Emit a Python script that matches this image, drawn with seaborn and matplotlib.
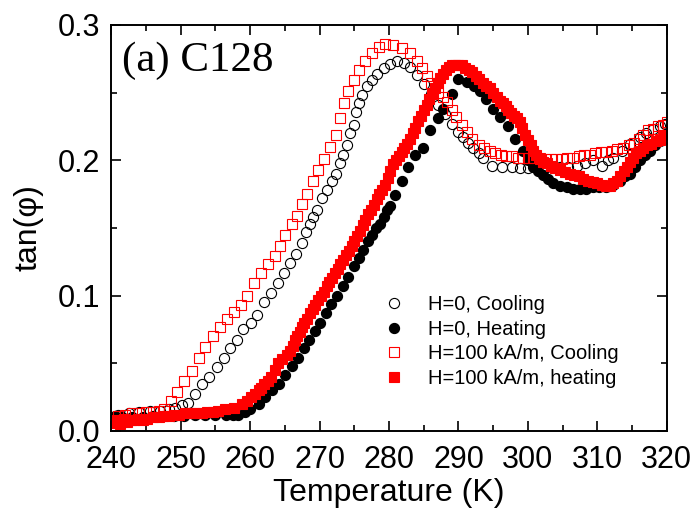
import numpy as np
import pandas as pd
import matplotlib
matplotlib.use("Agg")
import matplotlib.pyplot as plt
from matplotlib.ticker import MultipleLocator, FormatStrFormatter
import seaborn as sns

# ---------------- data ----------------
h0_cool_T = [241.0, 242.5, 244.0, 245.5, 247.0, 248.3, 249.2, 250.2, 251.1, 252.1, 253.0, 254.1,
             255.2, 256.2, 257.1, 258.1, 259.0, 260.1, 261.0, 262.0, 263.0, 264.0, 264.9, 265.8,
             266.6, 267.4, 268.0, 268.6, 269.1, 269.6, 270.3, 271.0, 271.8, 272.4, 272.9, 273.4,
             273.9, 274.4, 274.9, 275.2, 275.6, 276.1, 276.8, 277.5, 278.2, 279.2, 280.1, 281.1,
             282.1, 283.0, 284.0, 285.0, 286.0, 287.0, 288.0, 289.0, 289.9, 290.7, 291.4, 292.1,
             292.9, 293.6, 294.8, 296.2, 297.7, 298.8, 300.0, 301.2, 302.5, 303.5, 304.6, 305.8,
             307.0, 308.2, 309.4, 310.6, 311.5, 312.3, 313.5, 314.7, 316.1, 317.0, 318.0, 319.0,
             319.7]
h0_cool_v = [0.012, 0.013, 0.014, 0.015, 0.015, 0.016, 0.017, 0.019, 0.021, 0.027, 0.035, 0.040,
             0.047, 0.054, 0.061, 0.067, 0.075, 0.080, 0.086, 0.095, 0.102, 0.109, 0.117, 0.124,
             0.131, 0.139, 0.147, 0.153, 0.158, 0.163, 0.172, 0.178, 0.185, 0.190, 0.198, 0.204,
             0.211, 0.220, 0.226, 0.236, 0.242, 0.248, 0.255, 0.259, 0.264, 0.268, 0.271, 0.273,
             0.272, 0.269, 0.263, 0.256, 0.249, 0.241, 0.234, 0.227, 0.221, 0.217, 0.213, 0.209,
             0.205, 0.202, 0.196, 0.195, 0.195, 0.194, 0.194, 0.195, 0.194, 0.195, 0.195, 0.195,
             0.196, 0.198, 0.200, 0.196, 0.200, 0.202, 0.207, 0.212, 0.217, 0.220, 0.223, 0.225,
             0.227]

h0_heat_T = [240.5, 241.5, 243.0, 244.5, 246.0, 247.5, 249.0, 250.5, 252.0, 253.5, 255.0, 256.5,
             257.5, 258.3, 259.2, 260.0, 261.2, 262.2, 263.1, 264.1, 265.0, 266.0, 266.9, 267.7,
             268.5, 269.3, 270.1, 270.9, 271.7, 272.5, 273.3, 274.1, 274.9, 275.6, 276.2, 276.9,
             277.5, 278.1, 278.7, 279.2, 279.7, 280.2, 280.9, 281.8, 282.7, 283.7, 284.9, 285.9,
             287.1, 287.8, 289.0, 290.0, 291.2, 292.2, 293.1, 294.0, 295.0, 296.0, 297.2, 298.1,
             299.3, 300.0, 300.8, 301.5, 302.2, 302.9, 303.6, 304.6, 305.6, 306.5, 307.5, 308.4,
             309.4, 310.3, 311.3, 312.3, 313.2, 314.0, 314.7, 315.4, 316.1, 316.9, 317.6, 318.3,
             319.0, 319.7]
h0_heat_v = [0.011, 0.010, 0.010, 0.010, 0.011, 0.011, 0.011, 0.011, 0.012, 0.012, 0.012, 0.012,
             0.012, 0.012, 0.014, 0.016, 0.020, 0.025, 0.030, 0.035, 0.041, 0.048, 0.054, 0.061,
             0.067, 0.074, 0.080, 0.087, 0.094, 0.100, 0.107, 0.114, 0.122, 0.128, 0.134, 0.140,
             0.145, 0.150, 0.153, 0.158, 0.163, 0.166, 0.174, 0.185, 0.195, 0.204, 0.209, 0.222,
             0.231, 0.238, 0.249, 0.260, 0.258, 0.255, 0.251, 0.245, 0.238, 0.232, 0.225, 0.216,
             0.207, 0.200, 0.195, 0.192, 0.189, 0.186, 0.183, 0.181, 0.180, 0.179, 0.179, 0.179,
             0.180, 0.180, 0.180, 0.182, 0.185, 0.188, 0.190, 0.195, 0.200, 0.204, 0.207, 0.211,
             0.214, 0.216]

h100_cool_T = [241.0, 242.0, 243.0, 244.0, 245.0, 246.0, 246.8, 247.6, 248.6, 249.5, 250.5, 251.6,
               252.6, 253.5, 254.6, 255.7, 256.6, 257.6, 258.7, 259.6, 260.6, 261.5, 262.6, 263.5,
               264.3, 265.0, 266.0, 266.7, 267.4, 268.2, 269.1, 269.8, 270.6, 271.5, 272.3, 272.9,
               273.5, 274.1, 274.9, 275.6, 276.5, 277.5, 278.5, 279.4, 280.6, 281.8, 283.0, 284.0,
               284.7, 285.4, 286.1, 287.0, 287.7, 288.3, 289.0, 289.7, 290.5, 291.2, 291.9, 292.9,
               293.7, 294.5, 295.3, 296.1, 296.9, 297.7, 298.5, 299.3, 300.1, 300.9, 301.7, 302.5,
               303.3, 304.1, 304.9, 305.7, 306.5, 307.3, 308.1, 308.9, 309.7, 310.5, 311.3, 312.1,
               312.9, 313.7, 314.5, 315.3, 316.0, 316.6, 317.3, 318.0, 318.7, 319.4, 320.0]
h100_cool_v = [0.011, 0.012, 0.013, 0.013, 0.014, 0.014, 0.015, 0.016, 0.022, 0.029, 0.037, 0.044,
               0.054, 0.062, 0.070, 0.077, 0.083, 0.088, 0.093, 0.100, 0.109, 0.117, 0.123, 0.129,
               0.137, 0.145, 0.153, 0.159, 0.168, 0.175, 0.185, 0.193, 0.201, 0.210, 0.219, 0.231,
               0.242, 0.251, 0.259, 0.267, 0.273, 0.279, 0.284, 0.286, 0.285, 0.283, 0.279, 0.273,
               0.268, 0.262, 0.257, 0.250, 0.247, 0.243, 0.237, 0.232, 0.226, 0.221, 0.216, 0.211,
               0.209, 0.207, 0.205, 0.204, 0.203, 0.203, 0.202, 0.202, 0.202, 0.202, 0.202, 0.201,
               0.201, 0.201, 0.201, 0.202, 0.202, 0.203, 0.204, 0.204, 0.205, 0.206, 0.206, 0.207,
               0.208, 0.209, 0.211, 0.213, 0.216, 0.219, 0.222, 0.223, 0.225, 0.226, 0.228]

h100_heat_T = [240.3, 240.8, 241.3, 241.8, 242.3, 242.8, 243.3, 243.8, 244.5, 245.2, 246.0, 246.8,
               247.5, 248.3, 249.0, 249.8, 250.6, 251.4, 252.2, 253.0, 253.8, 254.6, 255.4, 256.4,
               257.6, 258.8, 259.6, 260.1, 260.7, 261.2, 261.6, 262.0, 262.5, 263.0, 263.5, 264.0,
               264.6, 265.3, 265.7, 266.1, 266.5, 266.8, 267.1, 267.4, 267.8, 268.2, 268.6, 269.0,
               269.4, 269.8, 270.2, 270.6, 271.0, 271.4, 271.8, 272.2, 272.6, 273.0, 273.4, 273.8,
               274.2, 274.6, 275.0, 275.4, 275.8, 276.2, 276.6, 277.0, 277.4, 277.8, 278.2, 278.6,
               279.0, 279.4, 279.8, 280.2, 280.6, 281.0, 281.4, 281.8, 282.2, 282.6, 283.0, 283.4,
               283.8, 284.2, 284.6, 285.0, 285.4, 285.8, 286.2, 286.6, 287.0, 287.4, 287.8, 288.2,
               288.6, 289.0, 289.5, 290.0, 290.5, 291.0, 291.5, 292.0, 292.5, 293.0, 293.5, 294.0,
               294.5, 295.0, 295.5, 296.0, 296.4, 296.8, 297.2, 297.6, 298.0, 298.4, 298.8, 299.2,
               299.6, 300.0, 300.4, 300.8, 301.2, 301.7, 302.2, 302.7, 303.3, 303.9, 304.6, 305.3,
               306.0, 306.7, 307.4, 308.0, 308.7, 309.4, 310.0, 310.7, 311.3, 311.8, 312.3, 312.8,
               313.3, 313.8, 314.2, 314.7, 315.2, 315.6, 316.1, 316.6, 317.2, 317.8, 318.4, 319.0,
               319.6, 320.0]
h100_heat_v = [0.006, 0.008, 0.005, 0.009, 0.007, 0.008, 0.008, 0.009, 0.008, 0.009, 0.010, 0.010,
               0.011, 0.011, 0.012, 0.012, 0.013, 0.013, 0.013, 0.013, 0.014, 0.014, 0.015, 0.016,
               0.017, 0.020, 0.022, 0.025, 0.027, 0.030, 0.032, 0.035, 0.037, 0.040, 0.045, 0.050,
               0.053, 0.056, 0.059, 0.063, 0.067, 0.070, 0.073, 0.077, 0.080, 0.083, 0.087, 0.090,
               0.093, 0.097, 0.100, 0.103, 0.107, 0.110, 0.113, 0.117, 0.120, 0.123, 0.126, 0.130,
               0.133, 0.137, 0.140, 0.144, 0.148, 0.152, 0.156, 0.160, 0.163, 0.167, 0.171, 0.175,
               0.178, 0.182, 0.187, 0.192, 0.197, 0.200, 0.203, 0.206, 0.209, 0.212, 0.216, 0.220,
               0.224, 0.229, 0.233, 0.237, 0.241, 0.245, 0.249, 0.253, 0.257, 0.261, 0.264, 0.267,
               0.269, 0.270, 0.270, 0.270, 0.270, 0.268, 0.267, 0.265, 0.262, 0.260, 0.257, 0.255,
               0.253, 0.250, 0.247, 0.244, 0.242, 0.240, 0.237, 0.235, 0.233, 0.231, 0.228, 0.224,
               0.219, 0.215, 0.211, 0.207, 0.204, 0.201, 0.199, 0.198, 0.196, 0.194, 0.193, 0.191,
               0.190, 0.189, 0.188, 0.186, 0.185, 0.184, 0.183, 0.182, 0.181, 0.181, 0.183, 0.185,
               0.188, 0.192, 0.195, 0.199, 0.202, 0.205, 0.207, 0.209, 0.211, 0.212, 0.214, 0.215,
               0.217, 0.218]

labels = ["H=0, Cooling", "H=0, Heating", "H=100 kA/m, Cooling", "H=100 kA/m, heating"]
panel_label = "(a) C128"
x_ticks = [240, 250, 260, 270, 280, 290, 300, 310, 320]
y_ticks = [0.0, 0.1, 0.2, 0.3]

# ---------------- figure ----------------
sns.set_style("ticks")
plt.rcParams["font.family"] = ["Liberation Sans", "DejaVu Sans"]
plt.rcParams["text.color"] = "black"
plt.rcParams["axes.labelcolor"] = "black"
plt.rcParams["xtick.color"] = "black"
plt.rcParams["ytick.color"] = "black"
plt.rcParams["axes.edgecolor"] = "black"

fig = plt.figure(figsize=(6.96, 5.18), dpi=100)
ax = fig.add_axes([0.160, 0.168, 0.798, 0.784])

RED = "#ff0000"
series = [
    (h0_cool_T, h0_cool_v, labels[0], "o", 7.3, "none", "black", 0.8),
    (h0_heat_T, h0_heat_v, labels[1], "o", 7.3, "black", "black", 0.8),
    (h100_cool_T, h100_cool_v, labels[2], "s", 6.5, "none", RED, 0.8),
    (h100_heat_T, h100_heat_v, labels[3], "s", 6.5, RED, RED, 0.8),
]
for T, v, lab, mk, ms, fc, ec, lw in series:
    df = pd.DataFrame({"T": T, "v": v})
    sns.lineplot(data=df, x="T", y="v", ax=ax, estimator=None, sort=False,
                 linestyle="none", marker=mk, markersize=ms, markerfacecolor=fc,
                 markeredgecolor=ec, markeredgewidth=lw, color=ec, label=lab)

ax.set_xlim(240, 320)
ax.set_ylim(0.0, 0.3)
ax.set_xticks(x_ticks)
ax.set_yticks(y_ticks)
ax.xaxis.set_minor_locator(MultipleLocator(5))
ax.yaxis.set_minor_locator(MultipleLocator(0.05))
ax.yaxis.set_major_formatter(FormatStrFormatter("%.1f"))
ax.tick_params(which="both", direction="in", top=True, right=True, width=1.2,
               color="black", labelcolor="black")
ax.tick_params(which="major", length=7, labelsize=22)
ax.tick_params(which="minor", length=4)
ax.tick_params(axis="x", which="major", pad=10)
ax.tick_params(axis="y", which="major", pad=8)
for sp in ax.spines.values():
    sp.set_linewidth(1.4)
    sp.set_color("black")
    sp.set_visible(True)

ax.set_xlabel("Temperature (K)", fontsize=23, labelpad=2, color="black")
ax.set_ylabel("tan(φ)", fontsize=23, labelpad=10, color="black")

ax.text(0.02, 0.886, panel_label, transform=ax.transAxes, fontsize=31, color="black",
        family=["Liberation Serif", "DejaVu Serif"], va="baseline", ha="left")

handles, labs = ax.get_legend_handles_labels()
leg = ax.legend(handles, labs, loc="upper left", bbox_to_anchor=(0.49, 0.335),
                frameon=False, fontsize=14.5, borderpad=0, borderaxespad=0,
                handlelength=1.0, handletextpad=1.2, labelspacing=0.28, numpoints=1)
for t in leg.get_texts():
    t.set_color("black")

fig.savefig("out.png", dpi=100)
